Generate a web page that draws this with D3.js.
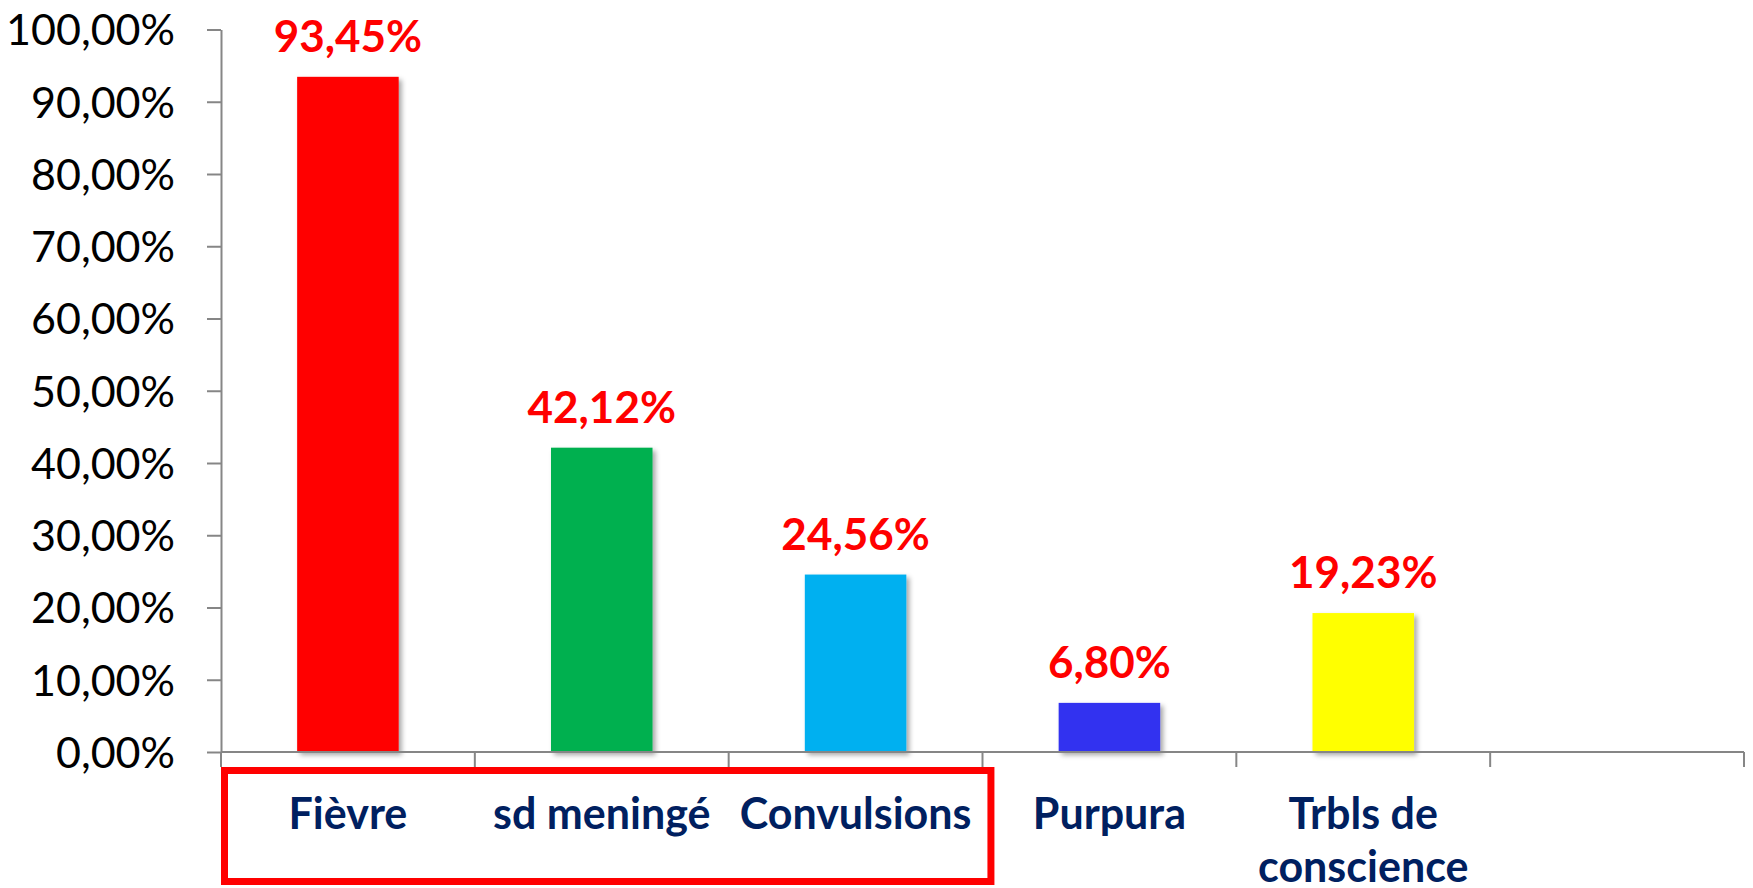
<!DOCTYPE html>
<html>
<head>
<meta charset="utf-8">
<script src="https://cdn.jsdelivr.net/npm/d3@7"></script>
<style>
    html, body { margin: 0; padding: 0; background: #fff; }
    svg { display: block; }
</style>
</head>
<body>
<div id="chart"></div>
<script>
// values
var categories = ["Fièvre", "sd meningé", "Convulsions", "Purpura", "Trbls de conscience", ""];
var values = [0.9345, 0.4212, 0.2456, 0.068, 0.1923, null];
var barColors = ["#FF0000", "#00B050", "#00B0F0", "#3030F0", "#FFFF00", "#FFFFFF"];
var yTicks = [0, 0.1, 0.2, 0.3, 0.4, 0.5, 0.6, 0.7, 0.8, 0.9, 1.0];

var W = 1753, H = 888;
var margin = { top: 29.5, right: 9, bottom: 136, left: 221 };
var width = W - margin.left - margin.right,
    height = H - margin.top - margin.bottom;

var fr = d3.formatLocale({ decimal: ",", thousands: " ", grouping: [3], currency: ["", "€"] });
var pct = fr.format(".2%");

var svg = d3.select("#chart").append("svg")
    .attr("width", W)
    .attr("height", H);

// soft shadow under the bars, like the office chart
var defs = svg.append("defs");
defs.append("filter")
    .attr("id", "shadow")
    .attr("x", "-20%").attr("y", "-20%").attr("width", "140%").attr("height", "140%")
    .append("feDropShadow")
    .attr("dx", 3).attr("dy", 3).attr("stdDeviation", 2.5)
    .attr("flood-color", "#000").attr("flood-opacity", 0.35);

var g = svg.append("g")
    .attr("transform", "translate(" + margin.left + "," + margin.top + ")");

var x = d3.scaleBand()
    .domain(d3.range(categories.length))
    .range([0, width])
    .padding(0);

var y = d3.scaleLinear()
    .domain([0, 1])
    .range([height, 0]);

var barW = x.bandwidth() * 0.4;

// Y axis
var yAxis = g.append("g")
    .call(d3.axisLeft(y).tickValues(yTicks).tickFormat(pct).tickSize(14).tickSizeOuter(0).tickPadding(32));
yAxis.select(".domain").attr("stroke", "#868686").attr("stroke-width", 2);
yAxis.selectAll(".tick line").attr("stroke", "#868686").attr("stroke-width", 2);
yAxis.selectAll(".tick text")
    .attr("fill", "#000")
    .style("font-family", "Lato, 'Open Sans', sans-serif")
    .style("font-size", "43px")
    .attr("dy", "0.36em");

// bars
g.selectAll(".bar")
    .data(values)
    .enter()
    .filter(function (d) { return d !== null; })
    .append("rect")
    .attr("class", "bar")
    .attr("x", function (d, i) { return x(i) + (x.bandwidth() - barW) / 2; })
    .attr("y", function (d) { return y(d); })
    .attr("width", barW)
    .attr("height", function (d) { return height - y(d); })
    .attr("fill", function (d, i) { return barColors[i]; })
    .attr("filter", "url(#shadow)");

// X axis line + category boundary ticks
var xEdges = d3.range(categories.length + 1);
g.append("line")
    .attr("x1", 0).attr("x2", width)
    .attr("y1", height).attr("y2", height)
    .attr("stroke", "#868686").attr("stroke-width", 2);
g.selectAll(".xtick")
    .data(xEdges)
    .enter()
    .append("line")
    .attr("class", "xtick")
    .attr("x1", function (d) { return d * x.step(); })
    .attr("x2", function (d) { return d * x.step(); })
    .attr("y1", height).attr("y2", height + 15)
    .attr("stroke", "#868686").attr("stroke-width", 2);

// value labels
g.selectAll(".val")
    .data(values)
    .enter()
    .filter(function (d) { return d !== null; })
    .append("text")
    .attr("class", "val")
    .attr("x", function (d, i) { return x(i) + x.bandwidth() / 2; })
    .attr("y", function (d) { return y(d) - 25; })
    .attr("text-anchor", "middle")
    .attr("fill", "#FF0000")
    .style("font-family", "Lato, 'Open Sans', sans-serif")
    .style("font-weight", "bold")
    .style("font-size", "44px")
    .text(function (d) { return pct(d); });

// category labels, wrapped on two lines when too long
var lineWords = [["Fièvre"], ["sd meningé"], ["Convulsions"], ["Purpura"], ["Trbls de", "conscience"], [""]];
var catText = g.selectAll(".cat")
    .data(categories)
    .enter()
    .append("text")
    .attr("class", "cat")
    .attr("text-anchor", "middle")
    .attr("fill", "#002060")
    .style("font-family", "Lato, 'Open Sans', sans-serif")
    .style("font-weight", "bold")
    .style("font-size", "43px")
    .attr("transform", function (d, i) {
        return "translate(" + (x(i) + x.bandwidth() / 2) + "," + (height + 77) + ")";
    });
catText.each(function (d, i) {
    var t = d3.select(this);
    lineWords[i].forEach(function (line, k) {
        t.append("tspan").attr("x", 0).attr("y", k * 53).text(line);
    });
});

// red highlight box round the first three categories
svg.append("rect")
    .attr("x", margin.left + 3.5)
    .attr("y", 770.5)
    .attr("width", x.step() * 3.047 - 7)
    .attr("height", 111)
    .attr("fill", "none")
    .attr("stroke", "#FF0000")
    .attr("stroke-width", 7);
</script>
</body>
</html>
